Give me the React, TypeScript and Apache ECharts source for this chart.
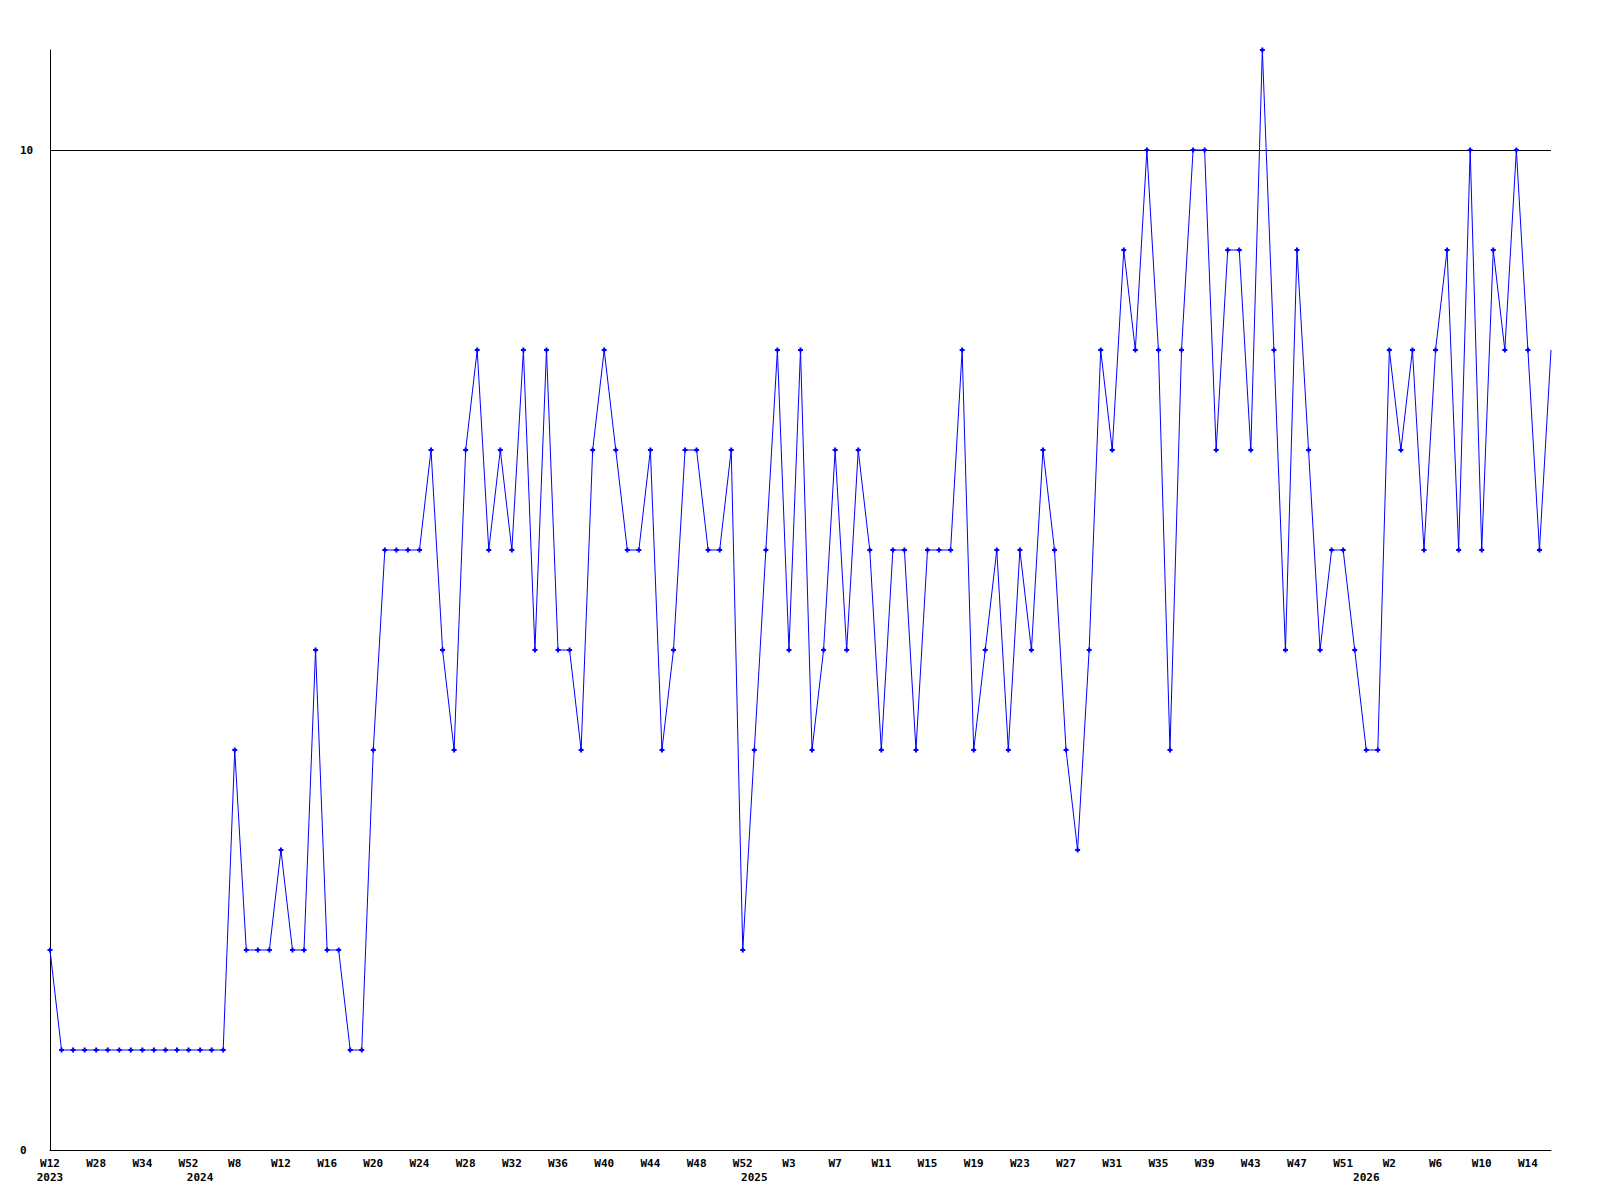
import React, { useEffect, useRef } from "react";
import * as echarts from "echarts";

// Week categories (sparse in 2023 / early 2024, weekly afterwards)
const weeks2023 = ["W12", "W15", "W19", "W24", "W28", "W30", "W31", "W33", "W34", "W38", "W43", "W48", "W52"];
const weeks2024 = [
  "W1", "W3", "W6",
  "W8", "W9", "W10", "W11", "W12", "W13", "W14", "W15", "W16", "W17", "W18", "W19", "W20",
  "W21", "W22", "W23", "W24", "W25", "W26", "W27", "W28", "W29", "W30", "W31", "W32", "W33",
  "W34", "W35", "W36", "W37", "W38", "W39", "W40", "W41", "W42", "W43", "W44", "W45", "W46",
  "W47", "W48", "W49", "W50", "W51", "W52",
];
const weeks2025 = [
  "W0", "W1", "W2", "W3", "W4", "W5", "W6", "W7", "W8", "W9", "W10", "W11", "W12", "W13",
  "W14", "W15", "W16", "W17", "W18", "W19", "W20", "W21", "W22", "W23", "W24", "W25", "W26",
  "W27", "W28", "W29", "W30", "W31", "W32", "W33", "W34", "W35", "W36", "W37", "W38", "W39",
  "W40", "W41", "W42", "W43", "W44", "W45", "W46", "W47", "W48", "W49", "W50", "W51", "W52",
];
const weeks2026 = [
  "W0", "W1", "W2", "W3", "W4", "W5", "W6", "W7", "W8", "W9", "W10", "W11", "W12", "W13",
  "W14", "W15", "W16",
];
const yearsShown = ["2023", "2024", "2025", "2026"];

const values = [
  2, 1, 1, 1, 1, 1, 1, 1, 1, 1, 1, 1, 1, 1, 1, 1,
  4, 2, 2, 2, 3, 2, 2, 5, 2, 2, 1, 1,
  4, 6, 6, 6, 6, 7, 5, 4, 7, 8, 6, 7,
  6, 8, 5, 8, 5, 5, 4, 7, 8, 7, 6, 6,
  7, 4, 5, 7, 7, 6, 6, 7, 2, 4, 6, 8,
  5, 8, 4, 5, 7, 5, 7, 6, 4, 6, 6, 4,
  6, 6, 6, 8, 4, 5, 6, 4, 6, 5, 7, 6,
  4, 3, 5, 8, 7, 9, 8, 10, 8, 4, 8, 10,
  10, 7, 9, 9, 7, 11, 8, 5, 9, 7, 5, 6,
  6, 5, 4, 4, 8, 7, 8, 6, 8, 9, 6, 10,
  6, 9, 8, 10, 8, 6, 8,
];

const yLabels = [0, 10];
const refLineValue = 10;

const FONT = "'DejaVu Sans Mono', 'Liberation Mono', monospace";

export default function App() {
  const ref = useRef<HTMLDivElement>(null);

  useEffect(() => {
    document.body.style.margin = "0";
    if (!ref.current) return;
    const chart = echarts.init(ref.current, null, { renderer: "svg" });

    const groups = [weeks2023, weeks2024, weeks2025, weeks2026];
    const categories: string[] = [];
    const yearRow: string[] = [];
    groups.forEach((g, gi) => {
      g.forEach((w, wi) => {
        categories.push(w + " " + yearsShown[gi]);
        yearRow.push(wi === 0 ? yearsShown[gi] : "");
      });
    });

    const seriesData = values.map((v, i) =>
      i === values.length - 1 ? { value: v, symbol: "none" } : v
    );

    const labelStyle = {
      fontFamily: FONT,
      fontSize: 11,
      fontWeight: "bold" as const,
      color: "#000",
    };

    chart.setOption({
      animation: false,
      backgroundColor: "#fff",
      grid: { left: 50, right: 49, top: 50, bottom: 50, containLabel: false },
      xAxis: [
        {
          type: "category",
          data: categories,
          boundaryGap: false,
          axisLine: { show: true, lineStyle: { color: "#000", width: 1 } },
          axisTick: { show: false },
          splitLine: { show: false },
          axisLabel: {
            ...labelStyle,
            interval: 3,
            margin: 8,
            formatter: (v: string) => v.split(" ")[0],
          },
        },
        {
          type: "category",
          data: yearRow,
          position: "bottom",
          boundaryGap: false,
          axisLine: { show: false },
          axisTick: { show: false },
          splitLine: { show: false },
          axisLabel: {
            ...labelStyle,
            margin: 22,
            interval: (_i: number, v: string) => v !== "",
          },
        },
      ],
      yAxis: {
        type: "value",
        min: 0,
        max: 11,
        interval: 10,
        axisLine: { show: true, lineStyle: { color: "#000", width: 1 } },
        axisTick: { show: false },
        splitLine: { show: false },
        axisLabel: {
          ...labelStyle,
          align: "left",
          margin: 30,
          formatter: (v: number) => (yLabels.includes(v) ? String(v) : ""),
        },
      },
      series: [
        {
          type: "line",
          xAxisIndex: 0,
          data: seriesData,
          symbol: "path://M1.5,0H3.5V1.5H5V3.5H3.5V5H1.5V3.5H0V1.5H1.5Z",
          symbolSize: 5,
          showSymbol: true,
          lineStyle: { color: "#0000ff", width: 1 },
          itemStyle: { color: "#0000ff", borderWidth: 0 },
          markLine: {
            silent: true,
            symbol: "none",
            label: { show: false },
            lineStyle: { color: "#000", width: 1, type: "solid" },
            data: [{ yAxis: refLineValue }],
            z: 1,
          },
          z: 3,
        },
      ],
    });

    return () => chart.dispose();
  }, []);

  return <div ref={ref} style={{ width: 1600, height: 1200 }} />;
}
